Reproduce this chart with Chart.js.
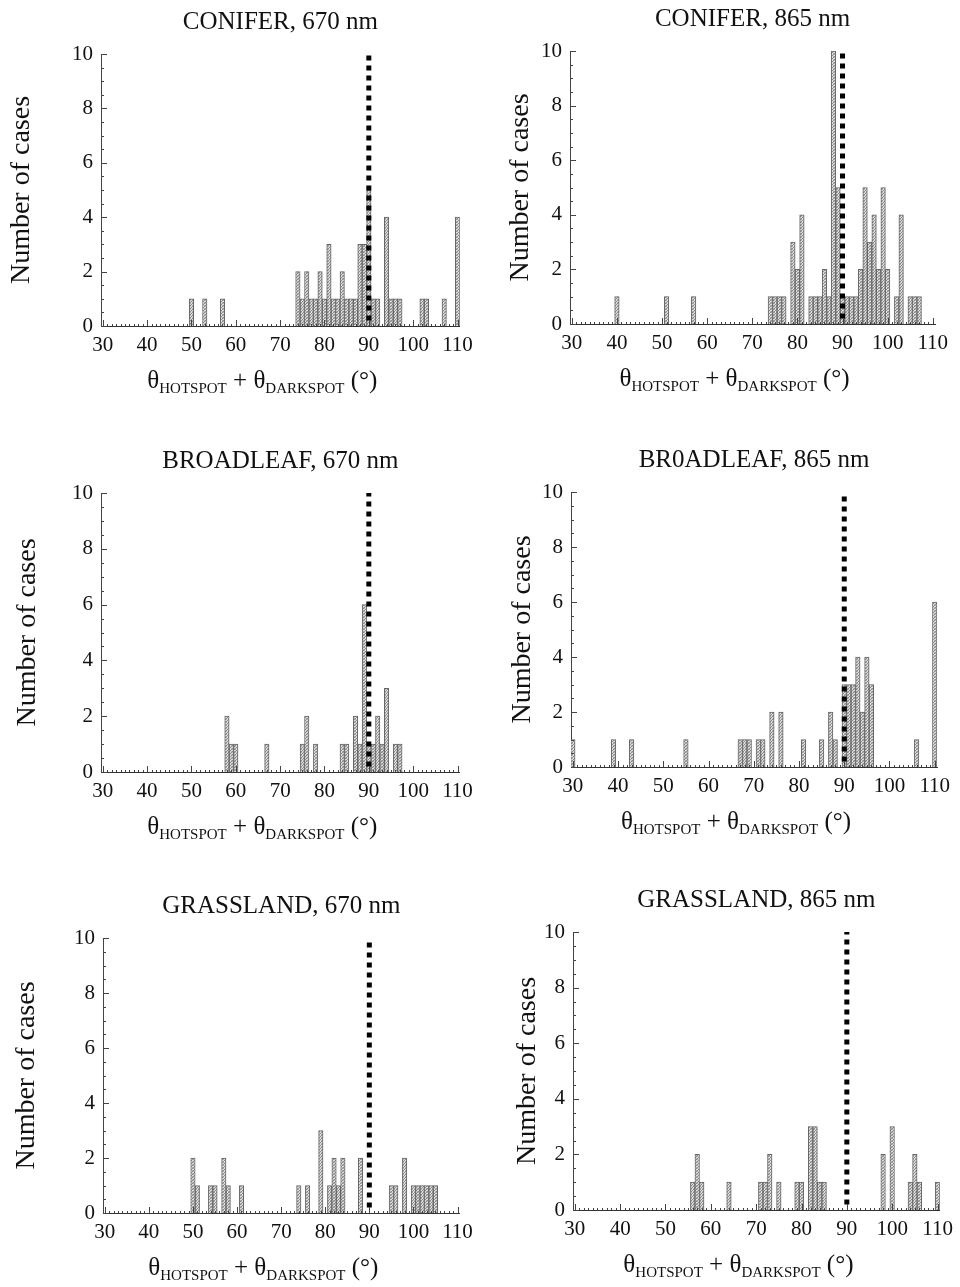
<!DOCTYPE html>
<html>
<head>
<meta charset="utf-8">
<title>Hotspot + darkspot angle histograms</title>
<script src="https://cdn.jsdelivr.net/npm/chart.js@4/dist/chart.umd.min.js"></script>
<style>
  html, body { margin: 0; padding: 0; background: #fff; }
  body { position: relative; width: 960px; height: 1287px; overflow: hidden; }
  canvas { position: absolute; }
</style>
</head>
<body>
<canvas id="c0"></canvas>
<canvas id="c1"></canvas>
<canvas id="c2"></canvas>
<canvas id="c3"></canvas>
<canvas id="c4"></canvas>
<canvas id="c5"></canvas>
<script>
// --- data: number of cases per 1-degree bin ---
const xTickValues = [30, 40, 50, 60, 70, 80, 90, 100, 110];
const yTickValues = [0, 2, 4, 6, 8, 10];
const referenceAngle = 90;   // dotted line

const conifer670Bins   = [50, 53, 57, 74, 75, 76, 77, 78, 79, 80, 81, 82, 83, 84, 85, 86, 87, 88, 89, 90, 91, 92, 94, 95, 96, 97, 102, 103, 107, 110];
const conifer670Counts = [1, 1, 1, 2, 1, 2, 1, 1, 2, 1, 3, 1, 1, 2, 1, 1, 1, 3, 3, 5, 1, 1, 4, 1, 1, 1, 1, 1, 1, 4];

const conifer865Bins   = [40, 51, 57, 74, 75, 76, 77, 79, 80, 81, 83, 84, 85, 86, 87, 88, 89, 90, 91, 92, 93, 94, 95, 96, 97, 98, 99, 100, 102, 103, 105, 106, 107];
const conifer865Counts = [1, 1, 1, 1, 1, 1, 1, 3, 2, 4, 1, 1, 1, 2, 1, 10, 5, 1, 1, 1, 1, 2, 5, 3, 4, 2, 5, 2, 1, 4, 1, 1, 1];

const broadleaf670Bins   = [58, 59, 60, 67, 75, 76, 78, 84, 85, 87, 88, 89, 90, 91, 92, 93, 94, 96, 97];
const broadleaf670Counts = [2, 1, 1, 1, 1, 2, 1, 1, 1, 2, 1, 6, 1, 1, 2, 1, 3, 1, 1];

const broadleaf865Bins   = [30, 39, 43, 55, 67, 68, 69, 71, 72, 74, 76, 81, 85, 87, 88, 90, 91, 92, 93, 94, 95, 96, 106, 110];
const broadleaf865Counts = [1, 1, 1, 1, 1, 1, 1, 1, 1, 2, 2, 1, 1, 2, 1, 3, 3, 3, 4, 2, 4, 3, 1, 6];

const grassland670Bins   = [50, 51, 54, 55, 57, 58, 61, 74, 76, 79, 81, 82, 83, 84, 88, 95, 96, 98, 100, 101, 102, 103, 104, 105];
const grassland670Counts = [2, 1, 1, 1, 2, 1, 1, 1, 1, 3, 1, 2, 1, 2, 2, 1, 1, 2, 1, 1, 1, 1, 1, 1];

const grassland865Bins   = [56, 57, 58, 64, 71, 72, 73, 75, 79, 80, 82, 83, 84, 85, 98, 100, 104, 105, 106, 110];
const grassland865Counts = [1, 2, 1, 1, 1, 1, 2, 1, 1, 1, 3, 3, 1, 1, 2, 3, 1, 2, 1, 1];

const panelTitles = ['CONIFER, 670 nm', 'CONIFER, 865 nm', 'BROADLEAF, 670 nm',
                     'BR0ADLEAF, 865 nm', 'GRASSLAND, 670 nm', 'GRASSLAND, 865 nm'];
const panelBins   = [conifer670Bins, conifer865Bins, broadleaf670Bins, broadleaf865Bins, grassland670Bins, grassland865Bins];
const panelCounts = [conifer670Counts, conifer865Counts, broadleaf670Counts, broadleaf865Counts, grassland670Counts, grassland865Counts];

// --- page layout (page pixels): canvas box and wanted plot area ---
const layouts = [
  { left: 0,   top: 0,   w: 480, h: 440, area: [101, 54, 464, 326],   yTitleX: 22 },
  { left: 500, top: 0,   w: 460, h: 440, area: [570, 51, 935, 324],   yTitleX: 521 },
  { left: 6,   top: 440, w: 474, h: 440, area: [101, 493, 469, 772],  yTitleX: 28 },
  { left: 502, top: 440, w: 458, h: 440, area: [571, 492, 937, 767],  yTitleX: 523 },
  { left: 6,   top: 880, w: 474, h: 407, area: [103, 938, 473, 1213], yTitleX: 27 },
  { left: 507, top: 880, w: 453, h: 407, area: [573, 932, 943, 1210], yTitleX: 528 }
];

const SERIF = "'Liberation Serif', 'DejaVu Serif', serif";
const INK = '#111';
const TITLE_SIZE = 25, TITLE_GAP = 17;
const TICK_SIZE = 21;
const YTITLE_SIZE = 28;
const X_AXIS_H = 70;

// stippled grey fill like the printed bars
function makeStipple() {
  const c = document.createElement('canvas');
  c.width = 3; c.height = 3;
  const g = c.getContext('2d');
  g.fillStyle = '#dedede'; g.fillRect(0, 0, 3, 3);
  g.fillStyle = '#8c8c8c';
  g.fillRect(0, 0, 1, 1); g.fillRect(2, 1, 1, 1); g.fillRect(1, 2, 1, 1);
  g.fillStyle = '#b4b4b4';
  g.fillRect(1, 0, 1, 1); g.fillRect(0, 2, 1, 1);
  return g.createPattern(c, 'repeat');
}
const stipple = makeStipple();

// small tick marks pointing into the plot
const innerTicks = {
  id: 'innerTicks',
  afterDatasetsDraw(chart) {
    const { ctx, chartArea: a, scales: { x, y } } = chart;
    ctx.save();
    ctx.strokeStyle = '#444';
    ctx.lineWidth = 1;
    ctx.beginPath();
    for (let v = 0; v <= 10; v += 0.5) {
      const py = Math.round(y.getPixelForValue(v)) + 0.5;
      const len = v % 2 === 0 ? 6 : 3;
      ctx.moveTo(a.left, py); ctx.lineTo(a.left + len, py);
    }
    for (let v = 30; v <= 110; v += 1) {
      const px = Math.round(x.getPixelForValue(v)) + 0.5;
      const len = v % 10 === 0 ? 6 : 2;
      ctx.moveTo(px, a.bottom); ctx.lineTo(px, a.bottom - len);
    }
    ctx.stroke();
    ctx.restore();
  }
};

// x axis title with subscripts: θHOTSPOT + θDARKSPOT (°)
const xTitle = {
  id: 'xTitle',
  afterDraw(chart) {
    const { ctx, chartArea: a } = chart;
    const parts = [
      { t: 'θ', size: 25, dy: 0 },
      { t: 'HOTSPOT', size: 15, dy: 5 },
      { t: ' + θ', size: 25, dy: 0 },
      { t: 'DARKSPOT', size: 15, dy: 5 },
      { t: ' (°)', size: 25, dy: 0 }
    ];
    ctx.save();
    ctx.fillStyle = INK;
    ctx.textBaseline = 'alphabetic';
    let total = 0;
    parts.forEach(p => { ctx.font = p.size + 'px ' + SERIF; p.w = ctx.measureText(p.t).width; total += p.w; });
    let cx = (a.left + a.right) / 2 - 18 - total / 2;
    const base = a.bottom + 62;
    parts.forEach(p => {
      ctx.font = p.size + 'px ' + SERIF;
      ctx.fillText(p.t, cx, base + p.dy);
      cx += p.w;
    });
    ctx.restore();
  }
};

panelTitles.forEach((title, i) => {
  const L = layouts[i];
  const canvas = document.getElementById('c' + i);
  canvas.width = L.w; canvas.height = L.h;
  canvas.style.left = L.left + 'px';
  canvas.style.top = L.top + 'px';
  const [aLeft, aTop, aRight, aBottom] = L.area;
  const titleBox = TITLE_SIZE * 1.2 + TITLE_GAP;
  const yTitleLine = YTITLE_SIZE * 1.2;

  new Chart(canvas, {
    type: 'bar',
    data: {
      datasets: [
        {
          type: 'bar',
          data: panelBins[i].map((b, k) => ({ x: b, y: panelCounts[i][k] })),
          backgroundColor: stipple,
          borderColor: '#666',
          borderWidth: 1,
          barPercentage: 1,
          categoryPercentage: 1,
          order: 2
        },
        {
          type: 'line',
          data: [{ x: referenceAngle, y: 0.2 }, { x: referenceAngle, y: 10 }],
          borderColor: '#000',
          borderWidth: 5,
          borderDash: [5, 5],
          pointRadius: 0,
          order: 1
        }
      ]
    },
    options: {
      responsive: false,
      animation: false,
      events: [],
      layout: {
        padding: {
          left: 0,
          right: L.left + L.w - aRight,
          top: aTop - L.top - titleBox,
          bottom: L.top + L.h - aBottom - X_AXIS_H
        }
      },
      plugins: {
        legend: { display: false },
        tooltip: { enabled: false },
        title: {
          display: true,
          text: title,
          fullSize: false,
          color: INK,
          font: { family: SERIF, size: TITLE_SIZE, weight: 'normal', lineHeight: 1.2 },
          padding: { top: 0, bottom: TITLE_GAP }
        }
      },
      scales: {
        x: {
          type: 'linear',
          min: 29.6,
          max: 110.5,
          offset: false,
          grid: { display: false, drawTicks: false },
          border: { display: true, color: '#333', width: 1 },
          ticks: { color: INK, font: { family: SERIF, size: TICK_SIZE }, padding: 7, maxRotation: 0 },
          afterBuildTicks: s => { s.ticks = xTickValues.map(v => ({ value: v })); },
          afterFit: s => { s.height = X_AXIS_H; }
        },
        y: {
          min: 0,
          max: 10,
          grid: { display: false, drawTicks: false },
          border: { display: true, color: '#444', width: 1 },
          ticks: { color: INK, font: { family: SERIF, size: TICK_SIZE }, padding: 8 },
          afterBuildTicks: s => { s.ticks = yTickValues.map(v => ({ value: v })); },
          afterFit: s => { s.width = aLeft - L.left; },
          title: {
            display: true,
            text: 'Number of cases',
            color: INK,
            font: { family: SERIF, size: YTITLE_SIZE, lineHeight: 1.2 },
            padding: { top: L.yTitleX - L.left - yTitleLine / 2, bottom: 0 }
          }
        }
      }
    },
    plugins: [innerTicks, xTitle]
  });
});
</script>
</body>
</html>
